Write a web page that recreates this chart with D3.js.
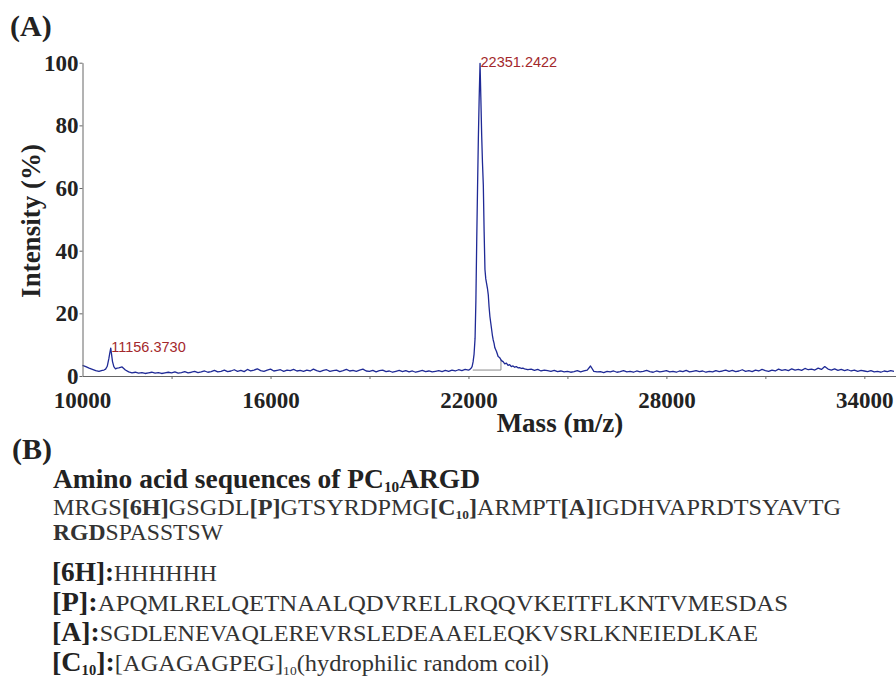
<!DOCTYPE html>
<html>
<head>
<meta charset="utf-8">
<script src="https://cdn.jsdelivr.net/npm/d3@7/dist/d3.min.js"></script>
<style>
  body { margin: 0; background: #fff; }
  svg { display: block; }
</style>
</head>
<body>
<svg id="fig" width="896" height="679"></svg>
<script>
// baseline of the spectrum, read every 100 Da starting at 10300
var baseStart = 10300, baseStep = 100;
var baseValues = [
  3.4,3.0,2.5,2.1,1.7,1.5,1.8,
  2.0,5.0,5.0,2.4,2.6,2.9,1.9,1.3,1.0,1.2,
  0.9,1.1,0.8,1.0,1.2,0.9,1.1,0.8,1.0,1.2,
  1.0,1.3,0.9,1.1,1.4,1.0,1.2,1.5,1.1,1.3,
  1.6,1.2,1.4,1.8,1.3,1.5,1.9,1.4,1.6,2.0,
  1.5,1.8,1.4,2.1,1.6,1.9,2.3,1.7,1.5,1.9,
  2.2,1.6,1.8,2.0,1.5,1.9,1.7,2.1,1.6,1.8,
  1.5,1.9,1.6,2.2,1.7,1.4,1.8,2.0,1.5,1.7,
  1.9,1.4,1.7,2.1,1.6,1.8,1.5,1.9,2.2,1.6,
  1.5,1.8,1.3,1.7,1.9,1.4,1.6,1.2,1.5,1.8,
  1.4,1.7,1.3,1.6,1.2,1.5,1.8,1.4,1.6,1.3,
  1.5,1.7,1.4,1.8,1.5,1.9,1.6,2.0,1.7,2.1,
  1.9,2.0,2.0,2.0,2.0,2.0,2.0,2.0,2.0,2.0,
  2.0,2.0,2.0,2.0,2.0,2.0,2.0,2.3,2.0,2.2,
  1.8,2.1,1.6,1.9,1.7,1.5,1.8,1.4,1.6,1.3,
  1.5,1.2,1.4,1.7,1.3,1.6,1.9,3.2,1.5,1.3,
  1.4,1.1,1.5,1.3,1.6,1.2,1.4,1.7,1.3,1.5,
  1.2,1.6,1.3,1.5,1.8,1.4,1.2,1.6,1.3,1.5,
  1.7,1.3,1.5,1.2,1.6,1.4,1.8,1.3,1.5,1.7,
  1.4,1.6,1.2,1.5,1.3,1.7,1.4,1.6,1.9,1.5,
  1.8,1.4,1.6,2.0,1.5,1.7,1.4,1.9,1.6,2.1,
  1.7,1.5,1.9,1.6,2.2,1.8,2.0,1.7,2.3,1.9,
  2.1,1.8,2.4,2.0,2.2,1.9,2.5,2.1,3.0,2.2,
  1.9,2.3,1.8,2.1,1.7,2.0,1.6,1.9,1.5,1.8,
  1.6,1.4,1.7,1.3,1.5,1.2,1.6,1.4,1.7,1.5
];

// the two peaks, read more finely
var smallPeak = [[10950,1.9],[11000,2.2],[11050,3.1],[11100,5.6],[11130,7.5],[11156,8.9],
  [11180,7.0],[11210,4.6],[11250,3.0],[11300,2.3],[11350,2.5]];
var mainPeak = [[22030,2.0],[22080,2.5],[22110,3.0],[22140,4.5],[22170,7],[22200,12],
  [22225,24],[22250,43],[22275,60],[22300,76],[22325,89],[22351,99.8],[22375,89],[22400,77],
  [22425,68],[22450,61],[22475,46],[22500,34],[22525,31],[22550,29.5],[22575,28],[22600,26],
  [22625,22],[22650,19],[22675,17],[22700,15],[22725,13],[22750,11.5],[22775,10.5],[22800,9],
  [22850,7.8],[22900,6.2],[22950,5.8],[23000,4.9],[23050,4.6],[23100,3.9],[23150,4.1],
  [23200,3.4],[23250,3.6],[23300,3.0],[23350,3.2],[23400,2.8],[23450,3.0],[23500,2.6],
  [23550,2.7],[23600,2.4],[23650,2.5]];
var integrationBox = [[22130,1.9],[22985,1.9],[22985,5.2]];

var peakLabels = [
  {mass: 11156.3730, value: 8.9, text: "11156.3730"},
  {mass: 22351.2422, value: 99.8, text: "22351.2422"}
];

var yTicks = [0, 20, 40, 60, 80, 100];
var xTicks = [13000, 16000, 19000, 22000, 25000, 28000, 31000, 34000];
var xLabelled = [16000, 22000, 28000, 34000];
var xFirstLabel = "10000";

// panel B text; t = title, b = bold, n = normal, L = bold heading, *sub = subscript
var titleSegs = [["Amino acid sequences of PC","t"],["10","tsub"],["ARGD","t"]];
var seqLine1 = [["MRGS","n"],["[6H]","b"],["GSGDL","n"],["[P]","b"],["GTSYRDPMG","n"],
  ["[C","b"],["10","bsub"],["]","b"],["ARMPT","n"],["[A]","b"],["IGDHVAPRDTSYAVTG","n"]];
var seqLine2 = [["RGD","b"],["SPASSTSW","n"]];
var lineH = [["[6H]:","L"],["HHHHHH","n"]];
var lineP = [["[P]:","L"],["APQMLRELQETNAALQDVRELLRQQVKEITFLKNTVMESDAS","n"]];
var lineA = [["[A]:","L"],["SGDLENEVAQLEREVRSLEDEAAELEQKVSRLKNEIEDLKAE","n"]];
var lineC = [["[C","L"],["10","Lsub"],["]:","L"],["[AGAGAGPEG]","n"],["10","nsub"],["(hydrophilic random coil)","n"]];

var SERIF = "'Liberation Serif','Times New Roman','DejaVu Serif',Times,serif";
var svg = d3.select("#fig");

var x = d3.scaleLinear().domain([10300, 34960]).range([82.5, 896]);
var y = d3.scaleLinear().domain([0, 100]).range([376, 62.7]);

// merge baseline and peaks
var spectrum = [];
baseValues.forEach(function(v, i) {
  var m = baseStart + i * baseStep;
  if (m >= smallPeak[0][0] && m <= smallPeak[smallPeak.length-1][0]) return;
  if (m >= mainPeak[0][0] && m <= mainPeak[mainPeak.length-1][0]) return;
  spectrum.push([m, v]);
});
spectrum = spectrum.concat(smallPeak, mainPeak);
spectrum.sort(function(a, b) { return a[0] - b[0]; });

var line = d3.line().x(d => x(d[0])).y(d => y(d[1]));

svg.append("path")
  .attr("d", line(integrationBox))
  .attr("fill", "none")
  .attr("stroke", "#8a8a8a")
  .attr("stroke-width", 1);

svg.append("path")
  .attr("d", line(spectrum))
  .attr("fill", "none")
  .attr("stroke", "#1f2a96")
  .attr("stroke-width", 1.3)
  .attr("stroke-linejoin", "round");

// axes
var yAxis = d3.axisLeft(y).tickValues(yTicks).tickSize(3).tickSizeOuter(0).tickPadding(1);
var gy = svg.append("g").attr("transform", "translate(82.5,0)").call(yAxis);
gy.selectAll("text")
  .style("font-family", SERIF)
  .style("font-weight", "bold")
  .style("font-size", "23px")
  .attr("fill", "#222");

var xAxis = d3.axisBottom(x).tickValues(xTicks).tickSize(3).tickSizeOuter(0)
  .tickFormat(d => xLabelled.indexOf(d) >= 0 ? d : "");
var gx = svg.append("g").attr("transform", "translate(0,376)").call(xAxis);
gx.selectAll("text")
  .attr("dy", null)
  .attr("y", 32)
  .style("font-family", SERIF)
  .style("font-weight", "bold")
  .style("font-size", "23px")
  .attr("fill", "#222");
gx.append("text")
  .attr("x", x.range()[0])
  .attr("y", 32)
  .attr("text-anchor", "middle")
  .style("font-family", SERIF)
  .style("font-weight", "bold")
  .style("font-size", "23px")
  .attr("fill", "#222")
  .text(xFirstLabel);

svg.selectAll(".domain, .tick line").attr("stroke", "#666");

// axis titles
svg.append("text")
  .attr("transform", "translate(40,221) rotate(-90)")
  .attr("text-anchor", "middle")
  .style("font-family", SERIF)
  .style("font-weight", "bold")
  .style("font-size", "27px")
  .attr("fill", "#222")
  .text("Intensity (%)");

svg.append("text")
  .attr("x", 560).attr("y", 432)
  .attr("text-anchor", "middle")
  .style("font-family", SERIF)
  .style("font-weight", "bold")
  .style("font-size", "27px")
  .attr("fill", "#222")
  .text("Mass (m/z)");

// peak labels
svg.selectAll(".peaklabel")
  .data(peakLabels)
  .enter()
  .append("text")
  .attr("class", "peaklabel")
  .attr("x", d => x(d.mass) + 0.5)
  .attr("y", d => y(d.value) + 3.5)
  .style("font-family", "'Liberation Sans',Arial,sans-serif")
  .style("font-size", "14.5px")
  .attr("fill", "#a3282c")
  .text(d => d.text);

// panel letters
svg.append("text").attr("x", 10).attr("y", 36).style("font-family", SERIF)
  .style("font-weight", "bold").style("font-size", "30px").attr("fill", "#222").text("(A)");
svg.append("text").attr("x", 12).attr("y", 459).style("font-family", SERIF)
  .style("font-weight", "bold").style("font-size", "30px").attr("fill", "#222").text("(B)");

// sequence block
var kinds = {
  t:    {size: 27,   weight: "bold",   shift: 0, fill: "#222"},
  tsub: {size: 15,   weight: "bold",   shift: 4, fill: "#222"},
  n:    {size: 23.5, weight: "normal", shift: 0, fill: "#333"},
  nsub: {size: 13,   weight: "normal", shift: 4, fill: "#333"},
  b:    {size: 23.5, weight: "bold",   shift: 0, fill: "#333"},
  bsub: {size: 13,   weight: "bold",   shift: 4, fill: "#333"},
  L:    {size: 27,   weight: "bold",   shift: 0, fill: "#222"},
  Lsub: {size: 14,   weight: "bold",   shift: 4, fill: "#222"}
};

function writeLine(segs, xPos, yPos, len) {
  var t = svg.append("text").attr("x", xPos).attr("y", yPos)
    .style("font-family", SERIF)
    .attr("textLength", len)
    .attr("lengthAdjust", "spacingAndGlyphs");
  var cur = 0;
  segs.forEach(function(s) {
    var k = kinds[s[1]];
    t.append("tspan")
      .attr("dy", k.shift - cur)
      .style("font-family", SERIF)
      .style("font-size", k.size + "px")
      .style("font-weight", k.weight)
      .attr("fill", k.fill)
      .text(s[0]);
    cur = k.shift;
  });
}

writeLine(titleSegs, 53, 488, 427);
writeLine(seqLine1, 53, 515, 788);
writeLine(seqLine2, 53, 540, 170);
writeLine(lineH, 52, 581, 165);
writeLine(lineP, 52, 611, 736);
writeLine(lineA, 52, 641, 706);
writeLine(lineC, 52, 671, 497);
</script>
</body>
</html>
